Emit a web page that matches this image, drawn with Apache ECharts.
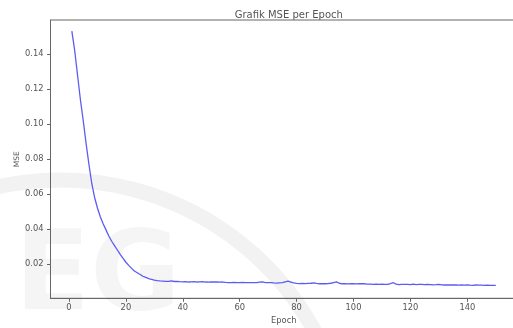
<!DOCTYPE html>
<html>
<head>
<meta charset="utf-8">
<script src="https://cdn.jsdelivr.net/npm/echarts@6/dist/echarts.min.js"></script>
<style>
  html, body { margin: 0; padding: 0; background: #fff; }
  #main { width: 513px; height: 328px; }
</style>
</head>
<body>
<div id="main"></div>
<script>
// nilai MSE tiap epoch
var mse = [
  0.153, 0.142, 0.128, 0.114, 0.102, 0.089, 0.077, 0.066, 0.058, 0.052,
  0.047, 0.043, 0.0395, 0.036, 0.033, 0.0305, 0.028, 0.0255, 0.0232, 0.021,
  0.0192, 0.0175, 0.016, 0.015, 0.014, 0.013, 0.0123, 0.0117, 0.0112, 0.0108,
  0.0105, 0.0103, 0.0102, 0.0101, 0.0101, 0.0104, 0.0100, 0.0101, 0.0099, 0.0098,
  0.0099, 0.0097, 0.0098, 0.0099, 0.0097, 0.0098, 0.0099, 0.0097, 0.0096, 0.0097,
  0.0098, 0.0097, 0.0096, 0.0097, 0.0095, 0.0094, 0.0093, 0.0095, 0.0094, 0.0094,
  0.0095, 0.0093, 0.0094, 0.0093, 0.0094, 0.0093, 0.0096, 0.0098, 0.0094, 0.0093,
  0.0094, 0.0092, 0.0091, 0.0092, 0.0093, 0.0098, 0.0102, 0.0097, 0.0092, 0.0089,
  0.0088, 0.0089, 0.0088, 0.0089, 0.0090, 0.0092, 0.0089, 0.0087, 0.0088, 0.0087,
  0.0088, 0.0090, 0.0094, 0.0098, 0.0090, 0.0087, 0.0087, 0.0086, 0.0087, 0.0087,
  0.0086, 0.0087, 0.0088, 0.0087, 0.0085, 0.0085, 0.0084, 0.0085, 0.0084, 0.0085,
  0.0083, 0.0084, 0.0088, 0.0093, 0.0085, 0.0082, 0.0083, 0.0084, 0.0083, 0.0082,
  0.0085, 0.0082, 0.0083, 0.0084, 0.0082, 0.0083, 0.0082, 0.0081, 0.0082, 0.0084,
  0.0081, 0.0080, 0.0081, 0.0080, 0.0081, 0.0080, 0.0079, 0.0080, 0.0079, 0.0081,
  0.0079, 0.0078, 0.0080, 0.0079, 0.0079, 0.0078, 0.0079, 0.0078, 0.0078, 0.0078
];
var epochs = mse.map(function (v, i) { return i + 1; });
var xTicks = [0, 20, 40, 60, 80, 100, 120, 140];
var yTicks = [0.02, 0.04, 0.06, 0.08, 0.10, 0.12, 0.14];

var chart = echarts.init(document.getElementById('main'));
var font = 'DejaVu Sans';
var textColor = '#555';
var lineColor = '#666';

var option = {
  animation: false,
  backgroundColor: '#fff',
  title: {
    text: 'Grafik MSE per Epoch',
    left: 283.8,
    textAlign: 'center',
    top: 5,
    textStyle: { fontFamily: font, fontSize: 10, fontWeight: 'normal', color: textColor }
  },
  graphic: [
    // watermark samar di belakang grafik
    {
      type: 'arc', z: -10, silent: true,
      shape: { cx: 60, cy: 470, r: 290, startAngle: Math.PI * 1.2, endAngle: Math.PI * 1.85 },
      style: { stroke: '#f2f2f2', lineWidth: 15, fill: null }
    },
    {
      type: 'text', z: -10, silent: true, left: 15, top: 225,
      style: { text: 'EG', font: 'bold 110px DejaVu Sans', fill: '#f5f5f5' }
    }
  ],
  grid: {
    left: 50.5, top: 20, width: 466.6, height: 278.3,
    outerBoundsMode: 'none',
    show: true, borderColor: lineColor, borderWidth: 1, backgroundColor: 'transparent'
  },
  xAxis: {
    type: 'value',
    min: -6.5, max: 157.5,
    name: 'Epoch',
    nameLocation: 'middle',
    nameGap: 18,
    nameTextStyle: { fontFamily: font, fontSize: 8.3, color: textColor },
    axisLine: { show: true, onZero: false, lineStyle: { color: lineColor } },
    axisTick: { show: true, length: 3.5, customValues: xTicks, lineStyle: { color: lineColor } },
    axisLabel: { customValues: xTicks, margin: 5.5, fontFamily: font, fontSize: 8.3, color: textColor },
    splitLine: { show: false }
  },
  yAxis: {
    type: 'value',
    min: 0.0004, max: 0.1594,
    name: 'MSE',
    nameLocation: 'middle',
    nameGap: 29,
    nameMoveOverlap: false,
    nameTextStyle: { fontFamily: font, fontSize: 7.5, color: textColor },
    axisLine: { show: true, onZero: false, lineStyle: { color: lineColor } },
    axisTick: { show: true, length: 3.5, customValues: yTicks, lineStyle: { color: lineColor } },
    axisLabel: {
      customValues: yTicks, margin: 7, fontFamily: font, fontSize: 8.3, color: textColor,
      formatter: function (v) { return v.toFixed(2); }
    },
    splitLine: { show: false }
  },
  series: [{
    type: 'line',
    data: epochs.map(function (e, i) { return [e, mse[i]]; }),
    showSymbol: false,
    lineStyle: { color: '#5b5bf5', width: 1.3 },
    itemStyle: { color: '#5b5bf5' }
  }]
};
chart.setOption(option);
</script>
</body>
</html>
